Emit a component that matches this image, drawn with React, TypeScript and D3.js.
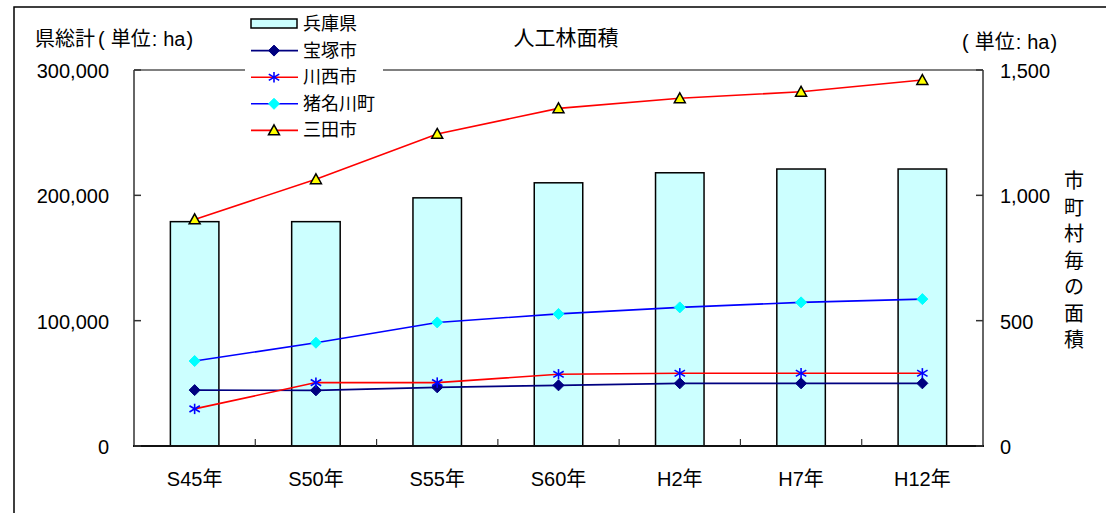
import React from 'react';
import * as d3 from 'd3';

// Categories (survey years)
const categories = ['S45年', 'S50年', 'S55年', 'S60年', 'H2年', 'H7年', 'H12年'];

// Prefecture total (left axis, ha)
const hyogo = [179000, 179000, 198000, 210000, 218000, 221000, 221000];

// Municipal values (right axis, ha)
const takarazuka = [223, 222, 234, 242, 250, 250, 250];
const kawanishi = [148, 253, 253, 286, 290, 290, 290];
const inagawa = [339, 412, 493, 527, 553, 573, 586];
const sanda = [904, 1064, 1245, 1347, 1387, 1413, 1460];

const leftTicks = [0, 100000, 200000, 300000];
const rightTicks = [0, 500, 1000, 1500];

const W = 1106;
const H = 513;
const plot = { left: 134, right: 983, top: 70, bottom: 446 };
const FONT = '"Liberation Sans", Arial, "Noto Sans CJK JP", sans-serif';

type Marker = 'diamond' | 'asterisk' | 'triangle';

interface Series {
  name: string;
  values: number[];
  line: string;
  marker: Marker;
  fill: string;
  stroke: string;
}

const series: Series[] = [
  { name: '宝塚市', values: takarazuka, line: '#000080', marker: 'diamond', fill: '#000080', stroke: '#000080' },
  { name: '川西市', values: kawanishi, line: '#FF0000', marker: 'asterisk', fill: 'none', stroke: '#0000FF' },
  { name: '猪名川町', values: inagawa, line: '#0000FF', marker: 'diamond', fill: '#00FFFF', stroke: '#00FFFF' },
  { name: '三田市', values: sanda, line: '#FF0000', marker: 'triangle', fill: '#FFFF00', stroke: '#000000' },
];

function MarkerShape({ kind, x, y, fill, stroke }: { kind: Marker; x: number; y: number; fill: string; stroke: string }) {
  if (kind === 'diamond') {
    const r = 5.5;
    return <path d={`M${x},${y - r}L${x + r},${y}L${x},${y + r}L${x - r},${y}Z`} fill={fill} stroke={stroke} strokeWidth={1} />;
  }
  if (kind === 'asterisk') {
    const r = 5.2;
    return (
      <g stroke={stroke} strokeWidth={1.6}>
        <line x1={x} y1={y - r} x2={x} y2={y + r} />
        <line x1={x - r} y1={y - r * 0.6} x2={x + r} y2={y + r * 0.6} />
        <line x1={x - r} y1={y + r * 0.6} x2={x + r} y2={y - r * 0.6} />
      </g>
    );
  }
  const s = 5.5;
  return <path d={`M${x},${y - s}L${x + s},${y + s * 0.8}L${x - s},${y + s * 0.8}Z`} fill={fill} stroke={stroke} strokeWidth={1.5} strokeLinejoin="miter" />;
}

export default function App() {
  const x = d3.scaleBand<string>().domain(categories).range([plot.left, plot.right]).paddingInner(0).paddingOuter(0);
  const yL = d3.scaleLinear().domain([0, 300000]).range([plot.bottom, plot.top]);
  const yR = d3.scaleLinear().domain([0, 1500]).range([plot.bottom, plot.top]);
  const fmt = d3.format(',');
  const barW = x.bandwidth() * 0.4;
  const cx = (c: string) => (x(c) as number) + x.bandwidth() / 2;

  const lineGen = (vals: number[]) =>
    d3
      .line<number>()
      .x((_, i) => cx(categories[i]))
      .y((v) => yR(v))(vals) as string;

  const legendRows = [{ name: '兵庫県' }, ...series.map((s) => ({ name: s.name }))];
  const legendY = (i: number) => 24 + i * 26.6;
  const rightTitle = '市町村毎の面積'.split('');

  return (
    <svg width={W} height={H} style={{ position: 'absolute', left: 0, top: 0, background: '#fff' }} fontFamily={FONT}>
      {/* outer frame */}
      <rect x={14} y={7} width={W + 20} height={H + 20} fill="#fff" stroke="#000" strokeWidth={1.5} />

      {/* plot frame top */}
      <line x1={plot.left} y1={plot.top} x2={plot.right} y2={plot.top} stroke="#808080" strokeWidth={2} />

      {/* bars */}
      {categories.map((c, i) => (
        <rect
          key={c}
          x={cx(c) - barW / 2}
          y={yL(hyogo[i])}
          width={barW}
          height={plot.bottom - yL(hyogo[i])}
          fill="#CCFFFF"
          stroke="#000"
          strokeWidth={1.5}
        />
      ))}

      {/* axes */}
      <line x1={plot.left} y1={plot.top} x2={plot.left} y2={plot.bottom} stroke="#333" strokeWidth={1.5} />
      <line x1={plot.right} y1={plot.top} x2={plot.right} y2={plot.bottom} stroke="#333" strokeWidth={1.5} />
      <line x1={plot.left - 1} y1={plot.bottom} x2={plot.right + 1} y2={plot.bottom} stroke="#111" strokeWidth={2} />

      {leftTicks.map((t) => (
        <g key={'l' + t}>
          <line x1={plot.left} x2={plot.left + 7} y1={yL(t)} y2={yL(t)} stroke="#333" strokeWidth={1.5} />
          <text x={109} y={yL(t) + 1} textAnchor="end" dominantBaseline="central" fontSize={20} fill="#000">
            {fmt(t)}
          </text>
        </g>
      ))}
      {rightTicks.map((t) => (
        <g key={'r' + t}>
          <line x1={plot.right - 7} x2={plot.right} y1={yR(t)} y2={yR(t)} stroke="#333" strokeWidth={1.5} />
          <text x={1000} y={yR(t) + 1} textAnchor="start" dominantBaseline="central" fontSize={20} fill="#000">
            {fmt(t)}
          </text>
        </g>
      ))}
      {categories.slice(1).map((c) => (
        <line key={'t' + c} x1={x(c) as number} x2={x(c) as number} y1={plot.bottom} y2={plot.bottom - 7} stroke="#333" strokeWidth={1.2} />
      ))}
      {categories.map((c) => (
        <text key={'c' + c} x={cx(c)} y={479} textAnchor="middle" dominantBaseline="central" fontSize={20} fill="#000">
          {c}
        </text>
      ))}

      {/* lines */}
      {series.map((s) => (
        <path key={'p' + s.name} d={lineGen(s.values)} fill="none" stroke={s.line} strokeWidth={1.6} />
      ))}
      {series.map((s) => (
        <g key={'m' + s.name}>
          {s.values.map((v, i) => (
            <MarkerShape key={i} kind={s.marker} x={cx(categories[i])} y={yR(v)} fill={s.fill} stroke={s.stroke} />
          ))}
        </g>
      ))}

      {/* titles */}
      <text x={566} y={37} textAnchor="middle" dominantBaseline="central" fontSize={21} fill="#000">
        人工林面積
      </text>
      <text x={35} y={39} dominantBaseline="central" fontSize={20} fill="#000">
        <tspan>県総計</tspan>
        <tspan dx={3}>(</tspan>
        <tspan dx={6}>単位</tspan>
        <tspan dx={1}>:</tspan>
        <tspan dx={6}>ha</tspan>
        <tspan dx={1}>)</tspan>
      </text>
      <text x={962} y={42} dominantBaseline="central" fontSize={20} fill="#000">
        <tspan>(</tspan>
        <tspan dx={6}>単位</tspan>
        <tspan dx={1}>:</tspan>
        <tspan dx={6}>ha</tspan>
        <tspan dx={1}>)</tspan>
      </text>
      {rightTitle.map((ch, i) => (
        <text key={'v' + i} x={1074} y={181 + i * 26.5} textAnchor="middle" dominantBaseline="central" fontSize={20} fill="#000">
          {ch}
        </text>
      ))}

      {/* legend */}
      <rect x={245} y={9} width={138} height={135} fill="#fff" />
      {legendRows.map((r, i) => {
        const y = legendY(i);
        if (i === 0) {
          return (
            <g key="lg0">
              <rect x={251} y={y - 5} width={46} height={9} fill="#CCFFFF" stroke="#000" strokeWidth={1.5} />
              <text x={303} y={y} dominantBaseline="central" fontSize={18} fill="#000">
                {r.name}
              </text>
            </g>
          );
        }
        const s = series[i - 1];
        return (
          <g key={'lg' + i}>
            <line x1={251} x2={298} y1={y} y2={y} stroke={s.line} strokeWidth={1.6} />
            <MarkerShape kind={s.marker} x={274} y={y} fill={s.fill} stroke={s.stroke} />
            <text x={303} y={y} dominantBaseline="central" fontSize={18} fill="#000">
              {r.name}
            </text>
          </g>
        );
      })}
    </svg>
  );
}
